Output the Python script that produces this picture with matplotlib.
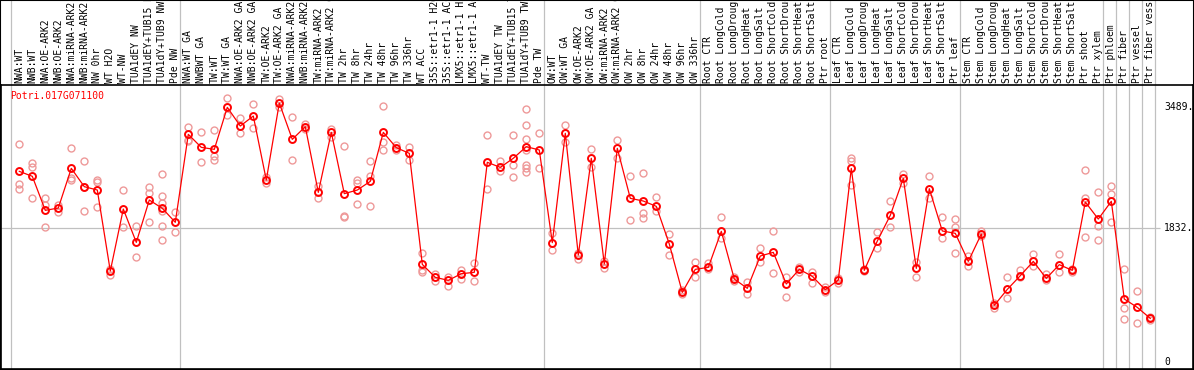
import matplotlib
matplotlib.use("Agg")
import matplotlib.pyplot as plt
from matplotlib.patches import Rectangle

# sample labels, in plot order
labels = [
    "NWA:WT", "NWB:WT", "NWA:OE-ARK2", "NWB:OE-ARK2", "NWA:miRNA-ARK2", "NWB:miRNA-ARK2",
    "NW 0hr", "WT H2O", "WT-NW", "TUA1dEY NW", "TUA1dEY+TUB15 NW", "TUA1dY+TUB9 NW", "Pde NW",
    "NWA:WT GA", "NWBWT GA", "TW:WT", "TW:WT GA", "NWA:OE-ARK2 GA", "NWB:OE-ARK2 GA",
    "TW:OE-ARK2", "TW:OE-ARK2 GA", "NWA:miRNA-ARK2 GA", "NWB:miRNA-ARK2 GA", "TW:miRNA-ARK2",
    "TW:miRNA-ARK2 GA", "TW 2hr", "TW 8hr", "TW 24hr", "TW 48hr", "TW 96hr", "TW 336hr",
    "WT ACC", "35S::etr1-1 H2O", "35S::etr1-1 ACC", "LMX5::etr1-1 H2O", "LMX5::etr1-1 ACC",
    "WT-TW", "TUA1dEY TW", "TUA1dEY+TUB15 TW", "TUA1dY+TUB9 TW", "Pde TW",
    "OW:WT", "OW:WT GA", "OW:OE-ARK2", "OW:OE-ARK2 GA", "OW:miRNA-ARK2", "OW:miRNA-ARK2 GA",
    "OW 2hr", "OW 8hr", "OW 24hr", "OW 48hr", "OW 96hr", "OW 336hr",
    "Root CTR", "Root LongCold", "Root LongDrought", "Root LongHeat", "Root LongSalt",
    "Root ShortCold", "Root ShortDrought", "Root ShortHeat", "Root ShortSalt", "Ptr root",
    "Leaf CTR", "Leaf LongCold", "Leaf LongDrought", "Leaf LongHeat", "Leaf LongSalt",
    "Leaf ShortCold", "Leaf ShortDrought", "Leaf ShortHeat", "Leaf ShortSalt", "Ptr leaf",
    "Stem CTR", "Stem LongCold", "Stem LongDrought", "Stem LongHeat", "Stem LongSalt",
    "Stem ShortCold", "Stem ShortDrought", "Stem ShortHeat", "Stem ShortSalt", "Ptr shoot",
    "Ptr xylem", "Ptr phloem", "Ptr fiber", "Ptr vessel", "Ptr fiber vessel",
]

# first sample index of each group (gray separator lines)
group_starts = [0, 13, 41, 53, 63, 73, 84, 85, 86, 87, 88]

# mean expression per sample
means = [
    2611, 2543, 2076, 2108, 2652, 2401, 2355, 1244, 2094, 1637, 2218, 2104, 1912,
    3119, 2940, 2913, 3489, 3233, 3370, 2492, 3549, 3050, 3224, 2323, 3146, 2305,
    2355, 2474, 3146, 2936, 2858, 1335, 1157, 1116, 1207, 1226, 2735, 2666, 2790,
    2950, 2904,
    1633, 3133, 1463, 2790, 1340, 2927, 2241, 2204, 2131, 1614, 951, 1267,
    1294, 1788, 1134, 1006, 1450, 1500, 1066, 1267, 1171, 988,
    1120, 2652, 1253, 1655, 2008, 2515, 1280, 2373, 1793, 1761,
    1376, 1751, 773, 992, 1180, 1376, 1143, 1331, 1253, 2190, 1957,
    2200, 860, 745, 594,
]

# replicate values per sample
replicates = [
    [2982, 2437, 2373], [2730, 2666, 2241], [2241, 2149, 1847], [2149, 2058],
    [2927, 2515, 2492], [2748, 2401, 2067], [2492, 2460, 2117], [1267, 1184],
    [2351, 1843], [1857, 1431], [2396, 2309, 1912],
    [2570, 2273, 2181, 2072, 1857, 1665], [2053, 1774],
    [3219, 3041, 3027], [3146, 2735], [3174, 2822, 2767], [3617, 3384],
    [3338, 3133], [3530, 3201], [2538, 2447], [3604, 3498], [3352, 2767],
    [3256, 3192], [2415, 2241], [3192, 3087], [2954, 1998, 1980],
    [2492, 2447, 2158], [2748, 2547, 2131], [3503, 3018, 2899], [2968, 2904],
    [2940, 2767], [1486, 1258, 1235], [1198, 1107], [1166, 1043], [1253, 1134],
    [1349, 1111], [3105, 2364], [2748, 2620], [3105, 2698, 2529],
    [3466, 3242, 3050, 2904, 2698, 2662, 2607], [3133, 2662],
    [1761, 1527], [3247, 3009], [1486, 1404], [2913, 2666], [1386, 1290],
    [3041, 2799], [2543, 1939], [2584, 2035, 1976], [2255, 2072], [1747, 1463],
    [983, 928], [1363, 1157],
    [1354, 1267], [1980, 1692], [1166, 1111], [1093, 933], [1555, 1363],
    [1788, 1216], [1166, 883], [1303, 1235], [1235, 1075], [1029, 960],
    [1143, 1075], [2790, 2757, 2424], [1267, 1240], [1774, 1555], [2200, 1847],
    [2575, 2447], [1363, 1162], [2543, 2241], [1989, 1692], [1953, 1847, 1491],
    [1454, 1317], [1788, 1720], [732, 800], [1157, 869], [1253, 1157],
    [1477, 1317], [1198, 1120], [1477, 1230], [1267, 1235], [2625, 2241, 1706],
    [2323, 1861, 1665], [2405, 2296, 1912], [1267, 732, 585], [969, 530],
    [617, 572],
]

gene = "Potri.017G071100"
tick_values = [3489, 1832, 0]
tick_text = ["3489.", "1832.", "0"]

mono = "DejaVu Sans Mono"
W, H = 1194, 370
fig = plt.figure(figsize=(W / 100, H / 100), dpi=100)
ax = fig.add_axes([1 / W, 1 / H, 1192 / W, 284 / H])

x = list(range(len(labels)))

# replicates underneath
for i, reps in enumerate(replicates):
    ax.plot([i] * len(reps), reps, "o", ms=5, mfc="none", mec="#ee9999", mew=1.0, zorder=2)

ax.plot(x, means, "-", color="red", lw=0.9, zorder=3)
ax.plot(x, means, "o", ms=5, mfc="none", mec="red", mew=1.4, zorder=4)

ax.set_xlim((1 - 19.3) / 13, (1193 - 19.3) / 13)
ax.set_ylim((361.7 - 369) / 0.0729, (361.7 - 85) / 0.0729)
ax.set_xticks([])
ax.set_yticks([])
for s in ax.spines.values():
    s.set_linewidth(1.2)

# separators run through the label area too
for g in group_starts:
    ax.axvline(g - 0.65, ymin=0, ymax=369 / 284, color="#c0c0c0", lw=0.9, clip_on=False, zorder=1)
ax.hlines(1832, ax.get_xlim()[0], (1160 - 19.3) / 13, color="#c0c0c0", lw=0.9, zorder=1)

for i, lab in enumerate(labels):
    ax.text(i, 1 + 2 / 284, lab, transform=ax.get_xaxis_transform(), rotation=90,
            ha="center", va="bottom", fontsize=7, family=mono)

for v, t in zip(tick_values, tick_text):
    ax.text((1164 - 19.3) / 13, v, t, ha="left", va="center", fontsize=7, family=mono)

ax.text(9 / 1192, 1 - 6 / 284, gene, transform=ax.transAxes, ha="left", va="top",
        fontsize=7, family=mono, color="red")

fig.patches.append(Rectangle((0, 0), 1, 1, transform=fig.transFigure, fill=False,
                             ec="black", lw=1.5))

fig.savefig("out.png", dpi=100)
